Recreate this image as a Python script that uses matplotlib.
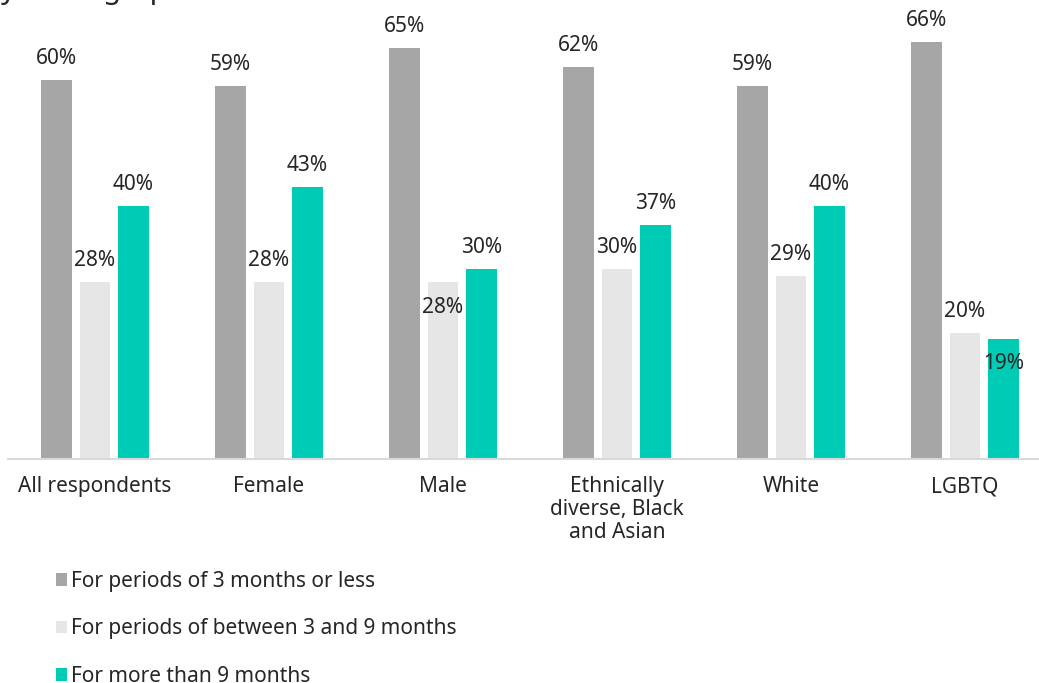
import matplotlib.pyplot as plt
from matplotlib.patches import Patch
import numpy as np

plt.rcParams['font.family'] = ['Noto Sans', 'DejaVu Sans']

categories = ['All respondents', 'Female', 'Male', 'Ethnically\ndiverse, Black\nand Asian', 'White', 'LGBTQ']
series_names = ['For periods of 3 months or less',
                'For periods of between 3 and 9 months',
                'For more than 9 months']
short_term = [60, 59, 65, 62, 59, 66]
mid_term = [28, 28, 28, 30, 29, 20]
long_term = [40, 43, 30, 37, 40, 19]

colors = ['#A6A6A6', '#E6E6E6', '#00CCB5']
text_col = '#262626'

fig = plt.figure(figsize=(10.39, 6.83), dpi=100)
# axes run a little past the right edge so the baseline reaches it
ax = fig.add_axes([8 / 1039, (683 - 459) / 683, 1044 / 1039, 417 / 683])

x = np.arange(len(categories))
width = 0.178
step = 0.221
values = [short_term, mid_term, long_term]

# labels that sit inside the top of their bar (series index, category index)
inside = {(1, 2), (2, 5)}

for s, (vals, col) in enumerate(zip(values, colors)):
    pos = x + (s - 1) * step
    ax.bar(pos, vals, width, color=col, zorder=2)
    for c, (p, v) in enumerate(zip(pos, vals)):
        dy = -18 if (s, c) in inside else 15.5
        ax.annotate(f'{v}%', (p, v), xytext=(0, dy), textcoords='offset points',
                    ha='center', va='center', fontsize=15, color=text_col)

ax.set_xlim(-0.5, 5.5)
ax.set_ylim(0, 66)
for side in ['top', 'right', 'left']:
    ax.spines[side].set_visible(False)
ax.spines['bottom'].set_color('#D9D9D9')
ax.spines['bottom'].set_linewidth(1.5)
ax.set_yticks([])
ax.set_xticks(x)
ax.set_xticklabels(categories, fontsize=15, color=text_col, linespacing=1.12, va='top')
ax.tick_params(axis='x', length=0, pad=12.5)

# title sits mostly above the top edge, only its descenders show
fig.text(-17 / 1039, 1 + 1.5 / 683, 'by demographic', fontsize=21, color=text_col,
         ha='left', va='baseline')

handles = [Patch(facecolor=c, edgecolor='none') for c in colors]
fig.legend(handles, series_names, loc='upper left', bbox_to_anchor=(37 / 1039, 1 - 552 / 683),
           frameon=False, fontsize=15, labelcolor=text_col, handlelength=0.55, handleheight=0.55,
           handletextpad=0.2, labelspacing=1.27)

fig.savefig('out.png', dpi=100)
